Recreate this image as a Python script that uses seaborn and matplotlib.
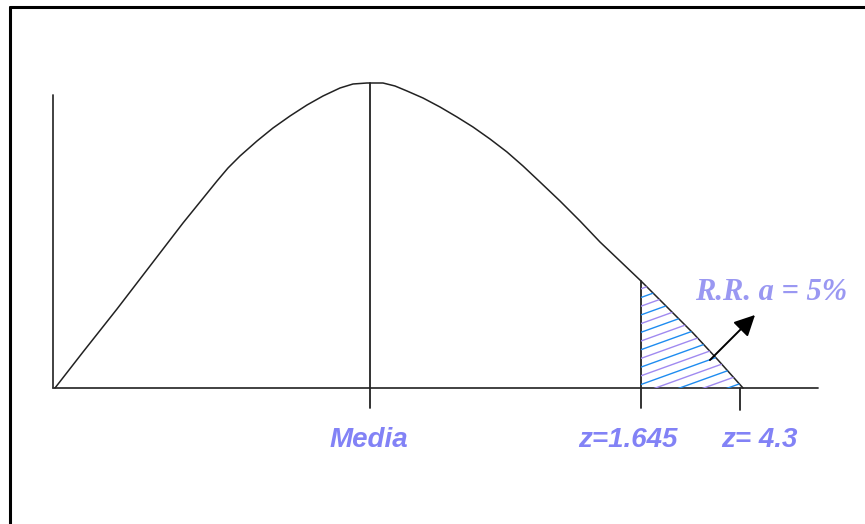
import numpy as np
import matplotlib
matplotlib.use('Agg')
import matplotlib.pyplot as plt
from matplotlib.lines import Line2D
import seaborn as sns

# bell-like curve (units: px from the axes origin, y up)
curve_x = [2, 30, 64, 97, 130, 164, 175, 187, 204, 220, 237, 254, 270, 287,
           300, 314, 330, 342, 354, 370, 387, 404, 420, 437, 454, 470, 487,
           507, 527, 547, 567, 588, 614, 640, 665, 690]
curve_y = [0, 36, 79, 122, 165, 207, 220, 232, 247, 260, 272, 283, 292, 300,
           304, 305, 305, 302, 297, 290, 281, 271, 261, 249, 236, 222, 206,
           187, 167, 146, 127, 107, 81, 55, 28, 0]

# marks on the horizontal axis
mean_x = 317
crit_x = 588
tail_x = 687
tick_labels = ['Media', 'z=1.645', 'z= 4.3']
label_x = [316, 575, 706]
region_label = 'R.R. a = 5%'

label_color = '#8282f6'
line_color = '#222222'

sns.set_theme(style='white')
fig = plt.figure(figsize=(8.65, 5.24), dpi=100)
ax = fig.add_axes([0, 0, 1, 1])
ax.set_xlim(-53, 812)
ax.set_ylim(-136, 388)
ax.axis('off')

# axes drawn by hand, like the original sketch
ax.plot([0, 0], [0, 293], color='#333333', lw=1.3)
ax.plot([0, 765], [0, 0], color='#333333', lw=1.3)

sns.lineplot(x=curve_x, y=curve_y, ax=ax, color=line_color, lw=1.1,
             estimator=None, sort=False)

# vertical markers
ax.plot([mean_x, mean_x], [-20, np.interp(mean_x, curve_x, curve_y)], color=line_color, lw=1.3)
ax.plot([crit_x, crit_x], [-20, np.interp(crit_x, curve_x, curve_y)], color=line_color, lw=1.3)
ax.plot([tail_x, tail_x], [-22, 0], color=line_color, lw=1.3)

# hatched rejection region
cx = np.array(curve_x)
cy = np.array(curve_y)
keep = cx >= crit_x
px = np.concatenate([[crit_x], cx[keep], [crit_x]])
py = np.concatenate([[0], cy[keep], [0]])
region = ax.fill(px, py, facecolor='none', edgecolor='none')[0]
slope = 0.36
for i, c in enumerate(np.arange(-40, 112, 8.7)):
    hx = np.array([crit_x - 5, cx[-1] + 5])
    hl, = ax.plot(hx, slope * (hx - crit_x) + c, lw=1.0,
                  color='#1e8cf0' if i % 2 else '#a08af0')
    hl.set_clip_path(region)

ax.annotate('', xy=(704, 75), xytext=(655, 26),
            arrowprops=dict(arrowstyle='-|>,head_length=0.9,head_width=0.45',
                            color='black', lw=1.4, mutation_scale=14))
ax.text(642, 96, region_label, ha='left', va='center', fontsize=22,
        fontfamily='Liberation Serif', fontweight='bold', fontstyle='italic',
        color='#9a98f2')

for lx, lab in zip(label_x, tick_labels):
    ax.text(lx, -52, lab, ha='center', va='center', fontsize=20,
            fontfamily='Liberation Sans', fontweight='bold', fontstyle='italic',
            color=label_color)

# frame lines on the top and left edges only
fig.add_artist(Line2D([10 / 865, 10 / 865], [0, 1 - 6.5 / 524],
                      transform=fig.transFigure, color='black', lw=2.2))
fig.add_artist(Line2D([10 / 865, 1], [1 - 6.5 / 524, 1 - 6.5 / 524],
                      transform=fig.transFigure, color='black', lw=2.2))

fig.savefig('out.png', dpi=100)
plt.close(fig)
